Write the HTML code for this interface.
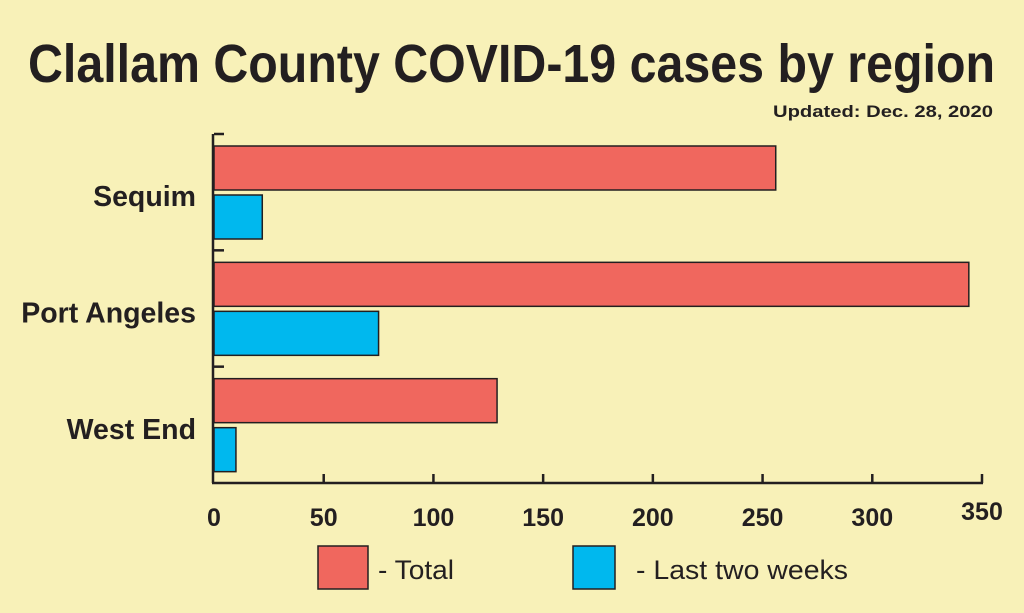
<!DOCTYPE html>
<html><head><meta charset="utf-8"><style>
html,body{margin:0;padding:0;background:#f8f1b8;}
svg{display:block;font-family:"Liberation Sans",sans-serif;}
</style></head><body>
<svg width="1024" height="613" viewBox="0 0 1024 613">
<rect x="0" y="0" width="1024" height="613" fill="#f8f1b8"/>
<text x="28" y="82" font-size="54" font-weight="bold" fill="#231f20" textLength="967" lengthAdjust="spacingAndGlyphs">Clallam County COVID-19 cases by region</text>
<text x="993" y="117" font-size="17" font-weight="bold" fill="#231f20" text-anchor="end" textLength="220" lengthAdjust="spacingAndGlyphs">Updated: Dec. 28, 2020</text>
<g id="plot"></g>
<g>
<rect x="318" y="546" width="50" height="43" fill="#f0675e" stroke="#231f20" stroke-width="1.5"/>
<text x="378" y="579" font-size="27" fill="#231f20" textLength="76" lengthAdjust="spacingAndGlyphs">- Total</text>
<rect x="573" y="546" width="42" height="43" fill="#00b8ee" stroke="#231f20" stroke-width="1.5"/>
<text x="636" y="579" font-size="27" fill="#231f20" textLength="212" lengthAdjust="spacingAndGlyphs">- Last two weeks</text>
</g>
</svg>
<script>
const categories = ["Sequim", "Port Angeles", "West End"];
const totalValues = [256, 344, 129];
const recentValues = [22, 75, 10];
const tickLabels = [0, 50, 100, 150, 200, 250, 300, 350];

const NS = "http://www.w3.org/2000/svg";
const plot = document.getElementById("plot");
const x0 = 214, x1 = 982, xMax = 350;
const yTop = 134, yBottom = 483;
const band = (yBottom - yTop) / categories.length;
const xScale = v => x0 + (v / xMax) * (x1 - x0);
function mk(tag, attrs){const e=document.createElementNS(NS,tag);for(const k in attrs)e.setAttribute(k,attrs[k]);plot.appendChild(e);return e;}

categories.forEach((c, i) => {
  const by = yTop + i * band;
  const t = mk("rect",{x:x0,y:by+12,width:xScale(totalValues[i])-x0,height:44,fill:"#f0675e",stroke:"#231f20","stroke-width":1.5});
  
  
  const r = mk("rect",{x:x0,y:by+61,width:xScale(recentValues[i])-x0,height:44,fill:"#00b8ee",stroke:"#231f20","stroke-width":1.5});
  
  
  const lb = mk("text",{x:196,y:by+band/2+14,"font-size":28.5,"font-weight":"bold",fill:"#231f20","text-anchor":"end"});
  lb.textContent = c;
  
  
  const tk = mk("line",{x1:x0,x2:x0+10,y1:by,y2:by,stroke:"#231f20","stroke-width":2.5});
  
  
});
const ya = mk("line",{x1:x0-1,x2:x0-1,y1:yTop,y2:yBottom,stroke:"#231f20","stroke-width":2.5});


const xa = mk("line",{x1:x0-2,x2:x1+1,y1:yBottom,y2:yBottom,stroke:"#231f20","stroke-width":2.5});


tickLabels.forEach((v, i) => {
  const x = xScale(v);
  if (i > 0) {
    const tk = mk("line",{x1:x,x2:x,y1:yBottom,y2:yBottom-9,stroke:"#231f20","stroke-width":2.5});
    
    
  }
  const tl = mk("text",{x:x,y:i===tickLabels.length-1?520:526,"font-size":25,"font-weight":"bold",fill:"#231f20","text-anchor":"middle"});
  tl.textContent = v;
  
  
});
</script>
</body></html>
